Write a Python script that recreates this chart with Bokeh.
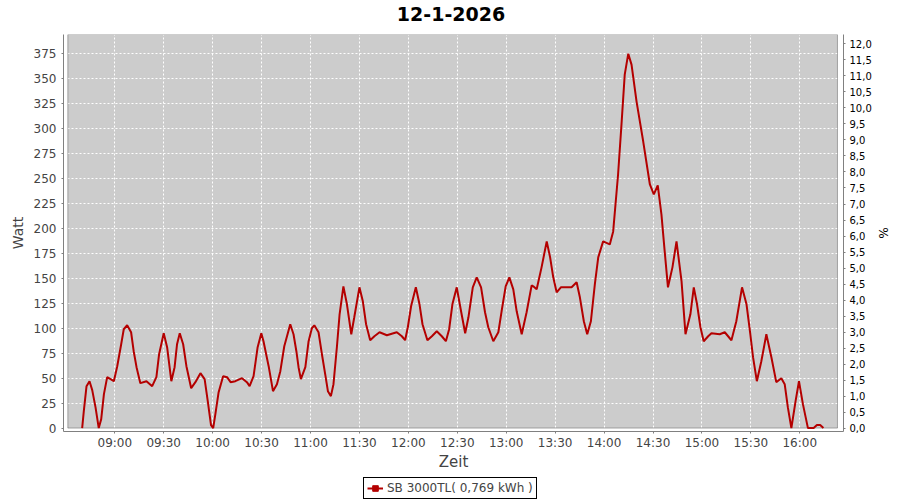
import pandas as pd
from bokeh.plotting import figure
from bokeh.layouts import column
from bokeh.models import (Range1d, LinearAxis, FixedTicker, DatetimeTickFormatter, Label,
                          BoxAnnotation, Legend, LegendItem, ColumnDataSource)
from bokeh.embed import file_html
from bokeh.resources import INLINE

DAY = "2026-01-12"
TITLE = "12-1-2026"
SERIES_LABEL = "SB 3000TL( 0,769 kWh )"

times = [
    "08:40:00", "08:41:00", "08:42:40", "08:44:30", "08:46:10", "08:48:10", "08:50:10", "08:51:40",
    "08:53:20", "08:55:20", "08:57:25", "08:59:25", "09:01:30", "09:03:55", "09:05:30", "09:07:35",
    "09:10:00", "09:11:35", "09:13:20", "09:15:40", "09:19:25", "09:22:55", "09:25:30", "09:27:10",
    "09:30:00", "09:32:05", "09:34:40", "09:36:40", "09:38:10", "09:39:50", "09:41:55", "09:43:55",
    "09:46:50", "09:49:25", "09:52:30", "09:55:05", "09:57:00", "09:59:00", "10:00:20", "10:01:40",
    "10:03:40", "10:06:25", "10:08:50", "10:11:00", "10:13:55", "10:18:00", "10:21:00", "10:22:40",
    "10:25:05", "10:27:35", "10:29:50", "10:31:10", "10:34:20", "10:37:00", "10:39:25", "10:41:30",
    "10:43:55", "10:47:35", "10:49:35", "10:51:20", "10:52:40", "10:54:05", "10:56:50", "10:58:50",
    "11:00:50", "11:02:20", "11:04:55", "11:07:00", "11:09:00", "11:10:40", "11:12:30", "11:14:05",
    "11:16:10", "11:17:50", "11:20:10", "11:22:20", "11:25:00", "11:26:50", "11:30:00", "11:32:05",
    "11:34:05", "11:36:35", "11:39:10", "11:42:20", "11:46:50", "11:50:50", "11:52:55", "11:56:00",
    "11:58:00", "11:59:40", "12:01:40", "12:04:35", "12:06:50", "12:08:40", "12:11:40", "12:14:25",
    "12:17:25", "12:20:30", "12:23:00", "12:25:00", "12:27:00", "12:29:40", "12:32:05", "12:34:50",
    "12:36:50", "12:39:30", "12:41:55", "12:44:35", "12:47:00", "12:49:00", "12:52:05", "12:55:10",
    "12:57:10", "12:59:40", "13:01:55", "13:04:20", "13:06:25", "13:09:30", "13:12:30", "13:15:35",
    "13:16:35", "13:18:40", "13:21:40", "13:24:50", "13:26:55", "13:28:50", "13:30:55", "13:33:30",
    "13:35:00", "13:40:05", "13:43:10", "13:45:10", "13:47:35", "13:49:40", "13:51:55", "13:54:20",
    "13:56:25", "13:59:25", "14:03:30", "14:05:35", "14:08:35", "14:10:40", "14:12:40", "14:14:50",
    "14:16:50", "14:19:55", "14:24:00", "14:28:05", "14:30:30", "14:32:55", "14:35:10", "14:37:10",
    "14:39:10", "14:41:55", "14:44:25", "14:47:30", "14:49:55", "14:52:55", "14:55:00", "14:57:00",
    "14:59:05", "15:01:05", "15:03:50", "15:05:50", "15:10:55", "15:14:00", "15:18:05", "15:21:05",
    "15:24:35", "15:27:20", "15:29:40", "15:31:20", "15:33:40", "15:36:25", "15:39:30", "15:42:35",
    "15:45:35", "15:48:40", "15:50:45", "15:52:40", "15:54:50", "15:57:25", "15:59:30", "16:01:55",
    "16:05:00", "16:08:30", "16:10:30", "16:12:30", "16:14:30",
]
watts = [
    0, 17, 42, 47, 38, 21, 0, 9,
    34, 51, 49, 47, 62, 84, 99, 103,
    96, 77, 61, 45, 47, 42, 51, 74,
    95, 81, 47, 61, 84, 95, 84, 62,
    40, 46, 55, 49, 27, 3, 0, 14,
    36, 52, 51, 46, 47, 50, 46, 42,
    52, 81, 95, 87, 62, 37, 44, 57,
    82, 104, 94, 77, 61, 49, 61, 87,
    100, 103, 96, 74, 54, 37, 32, 44,
    81, 114, 142, 124, 94, 111, 141, 127,
    104, 88, 92, 96, 93, 95, 96, 92,
    88, 101, 122, 141, 124, 104, 88, 92,
    97, 92, 87, 99, 124, 141, 119, 95,
    111, 141, 151, 141, 116, 101, 87, 96,
    117, 142, 151, 139, 117, 94, 116, 143,
    142, 139, 161, 187, 171, 151, 136, 141,
    141, 141, 146, 131, 107, 94, 107, 144,
    171, 187, 184, 197, 254, 304, 354, 375,
    364, 327, 287, 244, 234, 243, 214, 177,
    141, 161, 187, 147, 94, 114, 141, 124,
    101, 87, 92, 95, 94, 96, 88, 107,
    141, 124, 94, 71, 47, 67, 94, 71,
    46, 50, 44, 21, 0, 27, 47, 24,
    0, 0, 3, 3, 0,
]

time_ticks = ["09:00", "09:30", "10:00", "10:30", "11:00", "11:30", "12:00", "12:30",
              "13:00", "13:30", "14:00", "14:30", "15:00", "15:30", "16:00"]
watt_ticks = [0, 25, 50, 75, 100, 125, 150, 175, 200, 225, 250, 275, 300, 325, 350, 375]
pct_ticks = [0.0, 0.5, 1.0, 1.5, 2.0, 2.5, 3.0, 3.5, 4.0, 4.5, 5.0, 5.5, 6.0, 6.5, 7.0, 7.5,
             8.0, 8.5, 9.0, 9.5, 10.0, 10.5, 11.0, 11.5, 12.0]
pct_labels = ["0,0", "0,5", "1,0", "1,5", "2,0", "2,5", "3,0", "3,5", "4,0", "4,5", "5,0", "5,5",
              "6,0", "6,5", "7,0", "7,5", "8,0", "8,5", "9,0", "9,5", "10,0", "10,5", "11,0",
              "11,5", "12,0"]


def ms(t):
    return pd.Timestamp(f"{DAY} {t}").value / 1e6


FONT = "DejaVu Sans"
RED = "#b40000"

src = ColumnDataSource(data=dict(t=[ms(t) for t in times], w=watts))

# ---- title strip ----
tt = figure(width=900, height=28, x_range=Range1d(0, 780), y_range=Range1d(0, 28),
            output_backend="svg", toolbar_location=None, min_border=0,
            x_axis_location=None, y_axis_location=None, outline_line_color=None,
            background_fill_color="white", border_fill_color="white")
tt.grid.visible = False
tt.add_layout(Label(x=387.5, y=14.7, text=TITLE, text_align="center", text_baseline="middle",
                    text_font=FONT, text_font_size="19px", text_font_style="bold",
                    text_color="black"))

# ---- main chart ----
p = figure(width=900, height=446, x_axis_type="datetime",
           x_range=Range1d(ms("08:28:33"), ms("16:26:48")),
           y_range=Range1d(-3.4, 394.2),
           output_backend="svg", toolbar_location=None,
           min_border_left=63, min_border_right=57, min_border_top=6, min_border_bottom=43,
           background_fill_color="white", border_fill_color="white", outline_line_color=None)
p.title.text = ""

# plot area (inset from the axes like the original)
gray = BoxAnnotation(left=ms("08:31:12"), right=ms("16:23:06"), bottom=0, top=394.2,
                     fill_color="#cccccc", fill_alpha=1.0, line_color=None, level="image")
p.add_layout(gray)
border = BoxAnnotation(left=ms("08:31:12"), right=ms("16:23:06"), bottom=0, top=394.2,
                       fill_alpha=0.0, line_color="black", line_width=1, level="underlay")

xt = FixedTicker(ticks=[ms(t) for t in time_ticks])
yt = FixedTicker(ticks=watt_ticks)
p.xgrid.ticker = xt
p.ygrid.ticker = yt
for g in (p.xgrid, p.ygrid):
    g.grid_line_color = "white"
    g.grid_line_dash = "2 2"
    g.grid_line_width = 1
p.add_layout(border)

AX_COLOR = "#808080"
xa = p.xaxis[0]
xa.ticker = xt
xa.formatter = DatetimeTickFormatter(minutes="%H:%M", hourmin="%H:%M", hours="%H:%M",
                                     minsec="%H:%M", days="%H:%M")
xa.axis_label = "Zeit"
ya = p.yaxis[0]
ya.ticker = yt
ya.axis_label = "Watt"

for ax in (xa, ya):
    ax.axis_line_color = AX_COLOR
    ax.major_tick_line_color = AX_COLOR
    ax.major_tick_out = 2
    ax.major_tick_in = 0
    ax.minor_tick_line_color = None
    ax.major_label_text_font = FONT
    ax.major_label_text_font_size = "12px"
    ax.major_label_text_color = "#444444"
    ax.axis_label_text_font = FONT
    ax.axis_label_text_font_style = "normal"
    ax.axis_label_text_color = "#444444"

xa.axis_label_text_font_size = "15px"
ya.axis_label_text_font_size = "14px"
xa.major_label_standoff = 2
xa.axis_label_standoff = 0
ya.major_label_standoff = 5
ya.axis_label_standoff = 5

p.extra_y_ranges = {"pct": Range1d(-0.10, 12.29)}
ra = LinearAxis(y_range_name="pct", ticker=FixedTicker(ticks=pct_ticks),
                major_label_overrides={v: s for v, s in zip(pct_ticks, pct_labels)},
                axis_label="%")
ra.axis_line_color = AX_COLOR
ra.major_tick_line_color = AX_COLOR
ra.major_tick_out = 2
ra.major_tick_in = 0
ra.minor_tick_line_color = None
ra.major_label_text_font = FONT
ra.major_label_text_font_size = "10px"
ra.major_label_text_color = "black"
ra.major_label_standoff = 4
ra.axis_label_text_font = FONT
ra.axis_label_text_font_size = "12px"
ra.axis_label_text_font_style = "normal"
ra.axis_label_text_color = "black"
ra.axis_label_standoff = 1
p.add_layout(ra, "right")

line_r = p.line(x="t", y="w", source=src, line_color=RED, line_width=2)

# ---- legend strip below the chart ----
lg = figure(width=900, height=26, x_range=Range1d(0, 1), y_range=Range1d(0, 1),
            output_backend="svg", toolbar_location=None, min_border=0,
            x_axis_location=None, y_axis_location=None, outline_line_color=None,
            background_fill_color="white", border_fill_color="white")
lg.grid.visible = False
l2 = lg.line(x=[-5, -4], y=[-5, -5], line_color=RED, line_width=2)
s2 = lg.scatter(x=[-5], y=[-5], marker="square", size=4, fill_color=RED, line_color=RED)
legend = Legend(items=[LegendItem(label=SERIES_LABEL, renderers=[l2, s2])],
                location=(300, 1), orientation="horizontal",
                border_line_color="black", border_line_width=1, border_line_alpha=1.0,
                background_fill_color="white", background_fill_alpha=1.0,
                padding=3, margin=0, spacing=0, glyph_width=16, glyph_height=14,
                label_standoff=4, label_height=14,
                label_text_font=FONT, label_text_font_size="12px", label_text_color="#444444")
lg.add_layout(legend)

layout = column(tt, p, lg, spacing=0)
open("out.html", "w").write(file_html(layout, INLINE))
